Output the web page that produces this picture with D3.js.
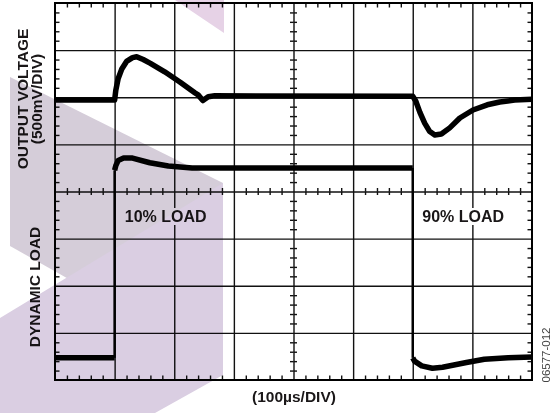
<!DOCTYPE html>
<meta charset="utf-8">
<style>
  body { margin: 0; background: #fff; }
  svg text { font-family: Arial, 'Liberation Sans', sans-serif; font-weight: bold; fill: #1a1718; }
</style>
<script src="https://d3js.org/d3.v7.min.js"></script>

<div id="my_dataviz"></div>

<script>
// scope record: time in us, level in divisions counted from the bottom of the screen
var outTime  = [0, 100, 102, 106, 112, 120, 130, 137, 148, 160, 184, 210, 235, 240, 248, 257, 268, 600, 605, 612, 620, 628, 637, 648, 662, 679, 701, 725, 746, 771, 800];
var outLevel = [5.94, 5.94, 6.15, 6.40, 6.60, 6.76, 6.84, 6.86, 6.80, 6.72, 6.54, 6.32, 6.09, 6.05, 5.93, 6.01, 6.03, 6.02, 5.92, 5.68, 5.45, 5.28, 5.20, 5.22, 5.35, 5.56, 5.73, 5.84, 5.90, 5.94, 5.96];

var loadTime  = [0, 100, 100, 102, 106, 115, 130, 159, 190, 230, 600, 600, 603, 615, 633, 650, 690, 720, 760, 800];
var loadLevel = [0.47, 0.47, 4.45, 4.55, 4.66, 4.71, 4.71, 4.61, 4.54, 4.50, 4.50, 0.47, 0.40, 0.30, 0.25, 0.27, 0.37, 0.44, 0.47, 0.49];

var majorTime = [100, 200, 300, 400, 500, 600, 700];
var majorDiv  = [1, 2, 3, 4, 5, 6, 7];
var minorTime = [20, 40, 60, 80, 120, 140, 160, 180, 220, 240, 260, 280, 320, 340, 360, 380,
                 420, 440, 460, 480, 520, 540, 560, 580, 620, 640, 660, 680, 720, 740, 760, 780];
var minorDiv  = [0.2, 0.4, 0.6, 0.8, 1.2, 1.4, 1.6, 1.8, 2.2, 2.4, 2.6, 2.8, 3.2, 3.4, 3.6, 3.8,
                 4.2, 4.4, 4.6, 4.8, 5.2, 5.4, 5.6, 5.8, 6.2, 6.4, 6.6, 6.8, 7.2, 7.4, 7.6, 7.8];

var margin = {top: 3, right: 24, bottom: 33, left: 55},
    width = 556 - margin.left - margin.right,
    height = 413 - margin.top - margin.bottom;

var root = d3.select("#my_dataviz")
  .append("svg")
    .attr("width", 556)
    .attr("height", 413)
    .style("display", "block");

root.append("rect").attr("width", 556).attr("height", 413).attr("fill", "#fff");

var svg = root.append("g")
    .attr("transform", "translate(" + margin.left + "," + margin.top + ")");

var x = d3.scaleLinear().domain([0, 800]).range([0, width]);
var y = d3.scaleLinear().domain([0, 8]).range([height, 0]);

// grid
svg.append("g")
  .attr("transform", "translate(0," + height + ")")
  .call(d3.axisBottom(x).tickValues(majorTime).tickSize(-height).tickFormat(""))
  .call(function(g) { g.select(".domain").remove(); });
svg.append("g")
  .call(d3.axisLeft(y).tickValues(majorDiv).tickSize(-width).tickFormat(""))
  .call(function(g) { g.select(".domain").remove(); });

// minor ticks on the frame and on both centre lines
function ticks(axis, tx, ty, size) {
  svg.append("g")
    .attr("transform", "translate(" + tx + "," + ty + ")")
    .call(axis.tickSize(size).tickFormat(""))
    .call(function(g) { g.select(".domain").remove(); });
}
ticks(d3.axisBottom(x).tickValues(minorTime), 0, 0, 4.5);
ticks(d3.axisTop(x).tickValues(minorTime), 0, height, 4.5);
ticks(d3.axisBottom(x).tickValues(minorTime), 0, y(4), 3.5);
ticks(d3.axisTop(x).tickValues(minorTime), 0, y(4), 3.5);
ticks(d3.axisRight(y).tickValues(minorDiv), 0, 0, 4.5);
ticks(d3.axisLeft(y).tickValues(minorDiv), width, 0, 4.5);
ticks(d3.axisRight(y).tickValues(minorDiv), x(400), 0, 3.5);
ticks(d3.axisLeft(y).tickValues(minorDiv), x(400), 0, 3.5);

svg.selectAll(".tick line")
  .attr("stroke", "#111")
  .attr("stroke-width", 1.4);

// traces: thick where sampled, thin on the vertical edges
var line = d3.line()
  .x(function(d) { return x(d.t); })
  .y(function(d) { return y(d.v); });

function trace(times, levels) {
  var runs = [[]];
  times.forEach(function(t, i) {
    if (i > 0 && t === times[i - 1]) {
      svg.append("line")
        .attr("x1", x(t)).attr("x2", x(t))
        .attr("y1", y(levels[i - 1])).attr("y2", y(levels[i]))
        .attr("stroke", "#000")
        .attr("stroke-width", 2.5);
      runs.push([]);
    }
    runs[runs.length - 1].push({t: t, v: levels[i]});
  });
  runs.forEach(function(r) {
    svg.append("path")
      .datum(r)
      .attr("d", line)
      .attr("fill", "none")
      .attr("stroke", "#000")
      .attr("stroke-width", 5.5)
      .attr("stroke-linejoin", "round");
  });
}
trace(outTime, outLevel);
trace(loadTime, loadLevel);

// frame
svg.append("rect")
  .attr("width", width)
  .attr("height", height)
  .attr("fill", "none")
  .attr("stroke", "#000")
  .attr("stroke-width", 2);

// load labels knock out the grid behind them
var loadLabels = [{text: "10% LOAD", t: 117}, {text: "90% LOAD", t: 616}];
loadLabels.forEach(function(d) {
  var t = svg.append("text")
    .attr("x", x(d.t))
    .attr("y", 219)
    .style("font-size", "16px")
    .text(d.text);
  var b = t.node().getBBox();
  svg.insert("rect", function() { return t.node(); })
    .attr("x", b.x - 2).attr("y", b.y)
    .attr("width", b.width + 4).attr("height", b.height)
    .attr("fill", "#fff");
});

// axis captions
root.append("text")
  .attr("transform", "translate(28,99) rotate(-90)")
  .attr("text-anchor", "middle")
  .style("font-size", "15.5px")
  .text("OUTPUT VOLTAGE");
root.append("text")
  .attr("transform", "translate(42,99) rotate(-90)")
  .attr("text-anchor", "middle")
  .style("font-size", "15.5px")
  .text("(500mV/DIV)");
root.append("text")
  .attr("transform", "translate(40,287) rotate(-90)")
  .attr("text-anchor", "middle")
  .style("font-size", "15.5px")
  .text("DYNAMIC LOAD");
root.append("text")
  .attr("x", 294)
  .attr("y", 402)
  .attr("text-anchor", "middle")
  .style("font-size", "15.5px")
  .text("(100µs/DIV)");
root.append("text")
  .attr("transform", "translate(550,355) rotate(-90)")
  .attr("text-anchor", "middle")
  .style("font-size", "11.5px")
  .style("font-weight", "normal")
  .style("fill", "#444")
  .text("06577-012");

// watermark, multiplied over everything
var mark = root.append("g").style("mix-blend-mode", "multiply");
mark.append("polygon")
  .attr("points", "175,0 224,0 224,33")
  .attr("fill", "#e6d2e6");
mark.append("polygon")
  .attr("points", "10,77 223,183 223,366 10,246")
  .attr("fill", "#d5cdd9");
mark.append("polygon")
  .attr("points", "0,318 223,183 223,375 155,413 0,413")
  .attr("fill", "#dacee2");
</script>
